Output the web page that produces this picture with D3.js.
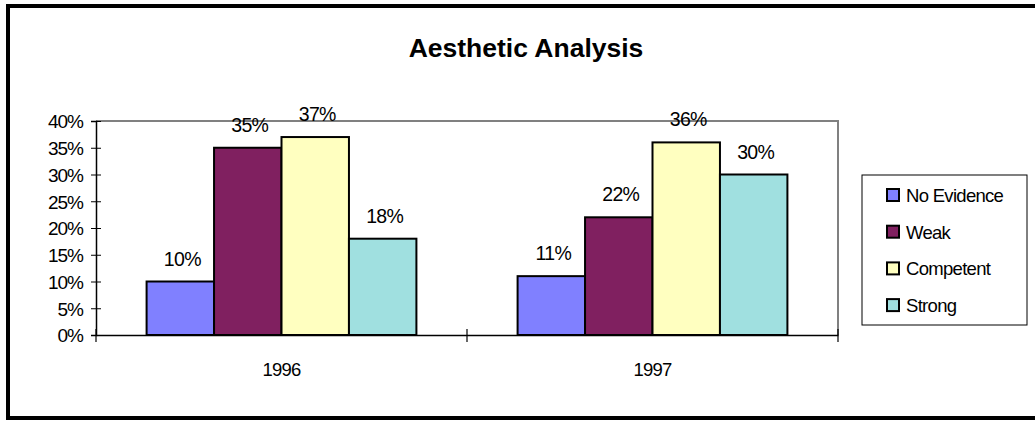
<!DOCTYPE html>
<html>
<head>
<meta charset="utf-8">
<script src="https://cdn.jsdelivr.net/npm/d3@7"></script>
<style>
  body { margin: 0; background: #fff; }
  svg text { font-family: "Liberation Sans", Arial, sans-serif; fill: #000; }
</style>
</head>
<body>
<div id="chart"></div>
<script>
// Chart data
const years = ['1996', '1997'];
const seriesNames = ['No Evidence', 'Weak', 'Competent', 'Strong'];
const seriesColors = ['#8080ff', '#802060', '#ffffc0', '#a0e0e0'];
const values = [
  [10, 35, 37, 18], // 1996
  [11, 22, 36, 30]  // 1997
];
const yTicks = [0, 5, 10, 15, 20, 25, 30, 35, 40];

const width = 1035, height = 421;
const plot = { left: 96, top: 121, right: 838, bottom: 335 };

const svg = d3.select('#chart').append('svg')
  .attr('width', width)
  .attr('height', height);

// Outer frame (right edge falls outside the window)
svg.append('rect')
  .attr('x', 8).attr('y', 6)
  .attr('width', 1040).attr('height', 412)
  .attr('fill', '#fff')
  .attr('stroke', '#000')
  .attr('stroke-width', 4);

// Title
svg.append('text')
  .attr('x', 526).attr('y', 57)
  .attr('text-anchor', 'middle')
  .attr('font-size', 26.5)
  .attr('font-weight', 'bold')
  .text('Aesthetic Analysis');

// Scales
const y = d3.scaleLinear().domain([0, 40]).range([plot.bottom, plot.top]);
const x0 = d3.scaleBand().domain(years).range([plot.left, plot.right]);
const gap = x0.bandwidth() / 5.5 * 1.5;
const x1 = d3.scaleBand().domain(seriesNames)
  .range([gap / 2, x0.bandwidth() - gap / 2]);

// Plot frame: grey top and right
svg.append('path')
  .attr('d', `M${plot.left},${plot.top}H${plot.right}V${plot.bottom}`)
  .attr('fill', 'none')
  .attr('stroke', '#808080')
  .attr('stroke-width', 2);

// Bars
const groups = svg.append('g').selectAll('g')
  .data(years)
  .join('g')
  .attr('transform', d => `translate(${x0(d)},0)`);

groups.selectAll('rect')
  .data((d, i) => values[i].map((v, j) => ({ name: seriesNames[j], v, color: seriesColors[j] })))
  .join('rect')
  .attr('x', d => x1(d.name))
  .attr('y', d => y(d.v))
  .attr('width', x1.bandwidth())
  .attr('height', d => y(0) - y(d.v))
  .attr('fill', d => d.color)
  .attr('stroke', '#000')
  .attr('stroke-width', 2);

groups.selectAll('text')
  .data((d, i) => values[i].map((v, j) => ({ name: seriesNames[j], v })))
  .join('text')
  .attr('x', d => x1(d.name) + x1.bandwidth() / 2 + 2)
  .attr('y', d => y(d.v) - 16)
  .attr('text-anchor', 'middle')
  .attr('font-size', 19.5)
  .attr('letter-spacing', -0.7)
  .text(d => d.v + '%');

// Y axis
const yAxis = svg.append('g')
  .attr('transform', `translate(${plot.left},0)`)
  .call(d3.axisLeft(y).tickValues(yTicks).tickSize(5).tickPadding(8)
    .tickFormat(d => d + '%'));
yAxis.select('.domain').attr('stroke', '#000').attr('stroke-width', 1.5);
yAxis.selectAll('.tick line').clone().attr('x2', 5);
yAxis.selectAll('.tick line').attr('stroke', '#000');
yAxis.selectAll('text')
  .attr('font-size', 19)
  .attr('font-family', '"Liberation Sans", Arial, sans-serif')
  .attr('letter-spacing', -1)
  .attr('dy', '0.36em');

// X axis
const xAxis = svg.append('g')
  .attr('transform', `translate(0,${plot.bottom})`)
  .call(d3.axisBottom(x0).tickSize(0).tickPadding(28));
xAxis.select('.domain').attr('stroke', '#000').attr('stroke-width', 1.5);
xAxis.selectAll('text')
  .attr('font-size', 18.5)
  .attr('font-family', '"Liberation Sans", Arial, sans-serif')
  .attr('letter-spacing', -0.8);

// Category separators
const seps = [plot.left, x0('1997'), plot.right];
svg.append('g').selectAll('line')
  .data(seps)
  .join('line')
  .attr('x1', d => d).attr('x2', d => d)
  .attr('y1', plot.bottom - 6).attr('y2', plot.bottom + 7)
  .attr('stroke', '#000')
  .attr('stroke-width', 1.2);

// Legend
const legend = svg.append('g').attr('transform', 'translate(862,175)');
legend.append('rect')
  .attr('width', 165).attr('height', 150)
  .attr('fill', '#fff')
  .attr('stroke', '#000')
  .attr('stroke-width', 1);

const items = legend.selectAll('g.item')
  .data(seriesNames)
  .join('g')
  .attr('class', 'item')
  .attr('transform', (d, i) => `translate(0,${20 + i * 36.7})`);

items.append('rect')
  .attr('x', 25).attr('y', -6)
  .attr('width', 12).attr('height', 12)
  .attr('fill', (d, i) => seriesColors[i])
  .attr('stroke', '#000')
  .attr('stroke-width', 2);

items.append('text')
  .attr('x', 44).attr('y', 7)
  .attr('font-size', 18.5)
  .attr('letter-spacing', -0.7)
  .text(d => d);
</script>
</body>
</html>
